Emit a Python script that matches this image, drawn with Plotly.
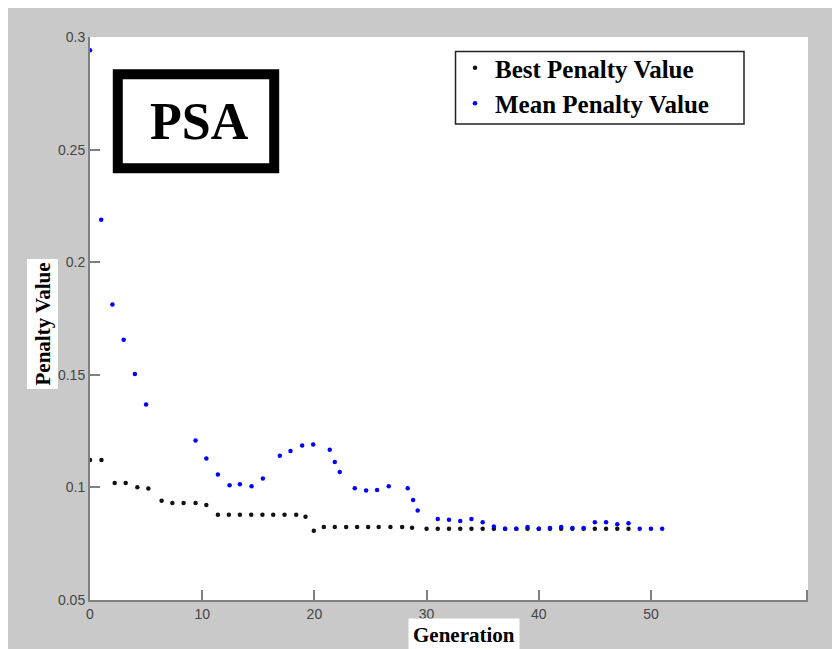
import plotly.graph_objects as go

# ---- data ----
best_gen = [0, 1.02, 2.2, 3.18, 4.22, 5.2, 6.38, 7.34, 8.34, 9.41, 10.37, 11.4, 12.38, 13.36,
            14.37, 15.37, 16.33, 17.34, 18.38, 19.21, 19.95, 20.84, 21.82, 22.83, 23.81, 24.79,
            25.73, 26.78, 27.82, 28.71,
            30, 31, 32, 33, 34, 35, 36, 37, 38, 39, 40, 41, 42, 43, 44, 45, 46, 47, 48]
best_val = [0.1122, 0.1122, 0.1020, 0.1020, 0.1001, 0.0995, 0.0941, 0.0931, 0.0931, 0.0931,
            0.0922, 0.0878, 0.0878, 0.0878, 0.0878, 0.0878, 0.0878, 0.0878, 0.0878, 0.0870,
            0.0808, 0.0824, 0.0824, 0.0824, 0.0824, 0.0824, 0.0824, 0.0824, 0.0824, 0.0821,
            0.0816, 0.0816, 0.0816, 0.0816, 0.0816, 0.0816, 0.0816, 0.0816, 0.0816, 0.0816,
            0.0816, 0.0816, 0.0816, 0.0816, 0.0816, 0.0816, 0.0816, 0.0816, 0.0816]

mean_gen = [0, 1, 2, 3, 4, 5,
            9.41, 10.37, 11.4, 12.44, 13.36, 14.4, 15.41, 16.92, 17.87, 18.91, 19.89, 21.37,
            21.82, 22.26, 23.6, 24.61, 25.59, 26.63, 28.32, 28.8, 29.21,
            31, 32, 33, 34, 35, 36, 37, 38, 39, 40, 41, 42, 43, 44, 45, 46, 47, 48, 49, 50, 51]
mean_val = [0.2941, 0.2189, 0.1812, 0.1656, 0.1504, 0.1368,
            0.1208, 0.1128, 0.1057, 0.1010, 0.1014, 0.1005, 0.1039, 0.1141, 0.1162, 0.1186,
            0.1190, 0.1167, 0.1113, 0.1068, 0.0996, 0.0986, 0.0989, 0.1005, 0.0996, 0.0944,
            0.0897,
            0.0860, 0.0856, 0.0851, 0.0860, 0.0845, 0.0826, 0.0816, 0.0816, 0.0824, 0.0816,
            0.0820, 0.0824, 0.0820, 0.0820, 0.0845, 0.0845, 0.0836, 0.0841, 0.0816, 0.0816,
            0.0816]

x_ticks = [0, 10, 20, 30, 40, 50]
y_ticks = [0.05, 0.1, 0.15, 0.2, 0.25, 0.3]
y_tick_text = ["0.05", "0.1", "0.15", "0.2", "0.25", "0.3"]

# ---- layout geometry (pixels); page body adds an 8px offset ----
OFF = 8
W, H = 832, 641
L, R, T, B = 82, 32, 29, 49
PW, PH = W - L - R, H - T - B


def xp(px):  # reference-picture pixel -> paper fraction
    return (px - OFF - L) / PW


def yp(py):
    return (H - B - (py - OFF)) / PH


SERIF = "Liberation Serif, Times New Roman, serif"
AX_COL = "#808080"
BG = "#c9c9c9"

fig = go.Figure()
fig.add_trace(go.Scatter(x=best_gen, y=best_val, mode="markers", name="Best Penalty Value",
                         marker=dict(color="#111111", size=4.5)))
fig.add_trace(go.Scatter(x=mean_gen, y=mean_val, mode="markers", name="Mean Penalty Value",
                         marker=dict(color="#0000ff", size=4.5)))

axis_common = dict(showline=True, linecolor=AX_COL, linewidth=2, ticks="inside",
                   ticklen=10, tickwidth=2, tickcolor=AX_COL, showgrid=False, zeroline=False,
                   tickfont=dict(family="Liberation Sans, Arial, sans-serif", size=14,
                                 color="#454545"))

fig.update_layout(
    width=W, height=H,
    margin=dict(l=L, r=R, t=T, b=B),
    paper_bgcolor=BG, plot_bgcolor="white",
    xaxis=dict(range=[0, 64], tickvals=x_ticks, **axis_common),
    yaxis=dict(range=[0.05, 0.3], tickvals=y_ticks, ticktext=y_tick_text, **axis_common),
    legend=dict(x=xp(455), y=yp(45), xanchor="left", yanchor="top",
                bgcolor="rgba(0,0,0,0)", borderwidth=0,
                font=dict(family=SERIF, size=25, color="black", weight="bold"),
                tracegroupgap=0),
    showlegend=True,
)

shapes = [
    # end tick at right of x axis
    dict(type="line", xref="paper", yref="paper", x0=xp(807), x1=xp(807), y0=0, y1=10 / PH,
         line=dict(color=AX_COL, width=2)),
    # PSA box
    dict(type="rect", xref="paper", yref="paper", x0=xp(117.8), x1=xp(274.2),
         y0=yp(168.3), y1=yp(74.3), fillcolor="white", line=dict(color="black", width=10)),
    # legend frame
    dict(type="rect", xref="paper", yref="paper", x0=xp(455.5), x1=xp(744),
         y0=yp(124), y1=yp(51.5), fillcolor="white", line=dict(color="#222222", width=1.5),
         layer="below"),
]
fig.update_layout(shapes=shapes)

fig.add_annotation(text="<b>PSA</b>", xref="paper", yref="paper", x=xp(199), y=yp(121),
                   xanchor="center", yanchor="middle",
                   showarrow=False, font=dict(family=SERIF, size=52, color="black"))
fig.add_annotation(text="<b>Penalty Value</b>", xref="paper", yref="paper", x=xp(42),
                   y=yp(324.5), xanchor="center", yanchor="middle",
                   textangle=-90, showarrow=False, bgcolor="white", borderpad=3,
                   font=dict(family=SERIF, size=21, color="black"))
fig.add_annotation(text="<b>Generation</b>", xref="paper", yref="paper", x=xp(464),
                   y=yp(635), xanchor="center", yanchor="middle",
                   showarrow=False, bgcolor="white", borderpad=4,
                   font=dict(family=SERIF, size=21, color="black"))

fig.write_html("out.html")
